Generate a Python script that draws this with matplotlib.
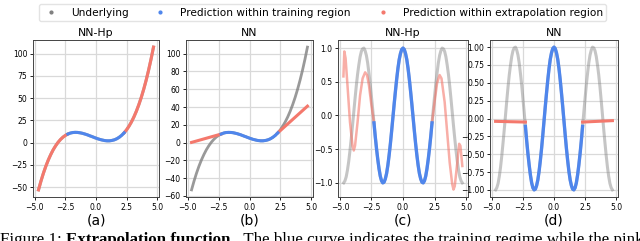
import matplotlib
matplotlib.use("Agg")
import matplotlib.pyplot as plt
import numpy as np
from matplotlib.lines import Line2D

# x grids
x_cubic = np.round(np.arange(-4.7, 4.71, 0.2), 1)
x_cos = np.round(np.arange(-4.7, 4.71, 0.1), 1)

# underlying cubic (a)/(b)
y_cubic = [-53.2, -43.4, -34.5, -26.6, -19.6, -13.5, -8.1, -3.6, 0.3, 3.5,
           6.1, 8.1, 9.6, 10.7, 11.3, 11.5, 11.4, 11.0, 10.4, 9.6,
           8.7, 7.6, 6.6, 5.5, 4.5, 3.6, 2.9, 2.3, 2.0, 2.0,
           2.4, 3.1, 4.3, 6.0, 8.2, 11.0, 14.4, 18.5, 23.3, 28.9,
           35.3, 42.6, 50.8, 60.0, 70.2, 81.5, 93.9, 107.4]

# underlying periodic curve (c)/(d)
y_cos = [-1.00, -0.97, -0.91, -0.81, -0.68, -0.52, -0.34, -0.15, 0.05, 0.25,
         0.44, 0.61, 0.75, 0.87, 0.95, 0.99, 1.00, 0.96, 0.89, 0.78,
         0.63, 0.47, 0.28, 0.09, -0.11, -0.31, -0.49, -0.65, -0.79, -0.90,
         -0.97, -1.00, -0.99, -0.94, -0.86, -0.74, -0.59, -0.42, -0.23, -0.03,
         0.17, 0.36, 0.54, 0.70, 0.83, 0.92, 0.98, 1.00, 0.98, 0.92,
         0.83, 0.70, 0.54, 0.36, 0.17, -0.03, -0.23, -0.42, -0.59, -0.74,
         -0.86, -0.94, -0.99, -1.00, -0.97, -0.90, -0.79, -0.65, -0.49, -0.31,
         -0.11, 0.09, 0.28, 0.47, 0.63, 0.78, 0.89, 0.96, 1.00, 0.99,
         0.95, 0.87, 0.75, 0.61, 0.44, 0.25, 0.05, -0.15, -0.34, -0.52,
         -0.68, -0.81, -0.91, -0.97, -1.00]

train_lim = 2.35

# NN extrapolation on the cubic (b)
nn_cub_left_x = [-4.7, -3.5, -2.3]
nn_cub_left_y = [0.2, 4.9, 9.6]
nn_cub_right_x = [2.3, 3.5, 4.7]
nn_cub_right_y = [11.0, 26.0, 41.0]

# NN-Hp extrapolation on the periodic curve (c)
hp_cos_left_x = [-4.72, -4.65, -4.55, -4.4, -4.2, -4.0, -3.9, -3.8, -3.6, -3.4,
                 -3.2, -3.0, -2.85, -2.7, -2.5, -2.3]
hp_cos_left_y = [0.58, 0.95, 0.85, 0.45, -0.10, -0.45, -0.52, -0.45, -0.10, 0.30,
                 0.55, 0.64, 0.60, 0.45, 0.15, -0.11]
hp_cos_right_x = [2.3, 2.5, 2.7, 2.9, 3.05, 3.3, 3.5, 3.7, 3.9, 4.0,
                  4.1, 4.3, 4.45, 4.55, 4.7]
hp_cos_right_y = [-0.11, 0.20, 0.48, 0.60, 0.55, 0.20, -0.25, -0.70, -1.02, -1.10,
                  -1.05, -0.70, -0.42, -0.45, -0.75]

# NN extrapolation on the periodic curve (d)
nn_cos_left_x = [-4.7, -2.3]
nn_cos_left_y = [-0.04, -0.05]
nn_cos_right_x = [2.3, 4.7]
nn_cos_right_y = [-0.05, -0.03]

titles = ["NN-Hp", "NN", "NN-Hp", "NN"]
panel_labels = ["(a)", "(b)", "(c)", "(d)"]
xticks = [-5.0, -2.5, 0.0, 2.5, 5.0]
yticks = [[-50, -25, 0, 25, 50, 75, 100],
          list(range(-60, 101, 20)),
          [-1.0, -0.5, 0.0, 0.5, 1.0],
          [-1.0, -0.75, -0.5, -0.25, 0.0, 0.25, 0.5, 0.75, 1.0]]
yfmt = ["{:.0f}", "{:.0f}", "{:.1f}", "{:.2f}"]
legend_labels = ["Underlying", "Prediction within training region",
                 "Prediction within extrapolation region"]

C_GRAY = "#808080"
C_BLUE = "#4f86ec"
C_RED = "#f4786c"


def minus(s):
    return s.replace("-", "\u2212")


fig = plt.figure(figsize=(6.4, 2.41), dpi=100)
W, H = 640, 241
boxes = [(33, 159), (186, 313), (338, 468), (490, 618)]
axes = []
for (l, r) in boxes:
    axes.append(fig.add_axes([l / W, 1 - 197 / H, (r - l) / W, (197 - 40) / H]))

xc = np.array(x_cubic); yc = np.array(y_cubic)
xs = np.array(x_cos); ys = np.array(y_cos)
mc = np.abs(xc) <= train_lim
ms = np.abs(xs) <= train_lim

# (a)
ax = axes[0]
ax.plot(xc, yc, color=C_GRAY, lw=2.2, alpha=0.6)
ax.plot(xc[xc <= -2.3], yc[xc <= -2.3], color=C_RED, lw=2.2)
ax.plot(xc[xc >= 2.3], yc[xc >= 2.3], color=C_RED, lw=2.2)
ax.plot(xc[mc], yc[mc], color=C_BLUE, lw=2.2)

# (b)
ax = axes[1]
ax.plot(xc, yc, color=C_GRAY, lw=2.0, alpha=0.8)
ax.plot(nn_cub_left_x, nn_cub_left_y, color=C_RED, lw=2.2)
ax.plot(nn_cub_right_x, nn_cub_right_y, color=C_RED, lw=2.2)
ax.plot(xc[mc], yc[mc], color=C_BLUE, lw=2.2)

# (c)
ax = axes[2]
ax.plot(xs, ys, color=C_GRAY, lw=2.2, alpha=0.45)
ax.plot(hp_cos_left_x, hp_cos_left_y, color=C_RED, lw=1.8, alpha=0.6)
ax.plot(hp_cos_right_x, hp_cos_right_y, color=C_RED, lw=1.8, alpha=0.6)
ax.plot(xs[ms], ys[ms], color=C_BLUE, lw=2.4)

# (d)
ax = axes[3]
ax.plot(xs, ys, color=C_GRAY, lw=2.2, alpha=0.45)
ax.plot(nn_cos_left_x, nn_cos_left_y, color=C_RED, lw=2.2)
ax.plot(nn_cos_right_x, nn_cos_right_y, color=C_RED, lw=2.2)
ax.plot(xs[ms], ys[ms], color=C_BLUE, lw=2.4)

for i, ax in enumerate(axes):
    ax.set_xlim(-5.15, 5.15)
    ax.set_xticks(xticks)
    ax.set_xticklabels([minus("{:.1f}".format(v)) for v in xticks])
    ax.set_yticks(yticks[i])
    ax.set_yticklabels([minus(yfmt[i].format(v)) for v in yticks[i]])
    ax.tick_params(labelsize=5.5, length=2.5, width=0.6, pad=1.5)
    ax.grid(True, color="#d9d9d9", lw=0.9)
    ax.set_axisbelow(True)
    for s in ax.spines.values():
        s.set_linewidth(0.7)
        s.set_color("#444444")
    ax.set_title(titles[i], fontsize=7.8, pad=3)
    l, r = boxes[i]
    fig.text((l + r) / 2 / W, 1 - 220 / H, panel_labels[i],
             ha="center", va="center", fontsize=10)

axes[2].set_ylim(-1.21, 1.12)

handles = [Line2D([], [], ls="none", marker="o", ms=2.0, color=c)
           for c in (C_GRAY, C_BLUE, C_RED)]
fig.legend(handles, legend_labels,
           loc="upper center", bbox_to_anchor=(0.504, 1.005), ncol=3, fontsize=7.6,
           frameon=True, handletextpad=1.1, columnspacing=2.2, borderpad=0.35,
           handlelength=1.6, edgecolor="#dddddd")

# caption, cut at the bottom edge as in the source page
y_base = -2.5 / H
t1 = fig.text(0.0, y_base, "Figure 1: ", family="Liberation Serif", fontsize=12.2,
              va="baseline", ha="left")
fig.canvas.draw()
bb = t1.get_window_extent()
t2 = fig.text(bb.x1 / W, y_base, "Extrapolation function.", family="Liberation Serif",
              fontsize=12.2, weight="bold", va="baseline", ha="left")
fig.canvas.draw()
bb2 = t2.get_window_extent()
fig.text(bb2.x1 / W, y_base,
         "  The blue curve indicates the training regime while the pink",
         family="Liberation Serif", fontsize=12.2, va="baseline", ha="left")

fig.savefig("out.png", dpi=100)
